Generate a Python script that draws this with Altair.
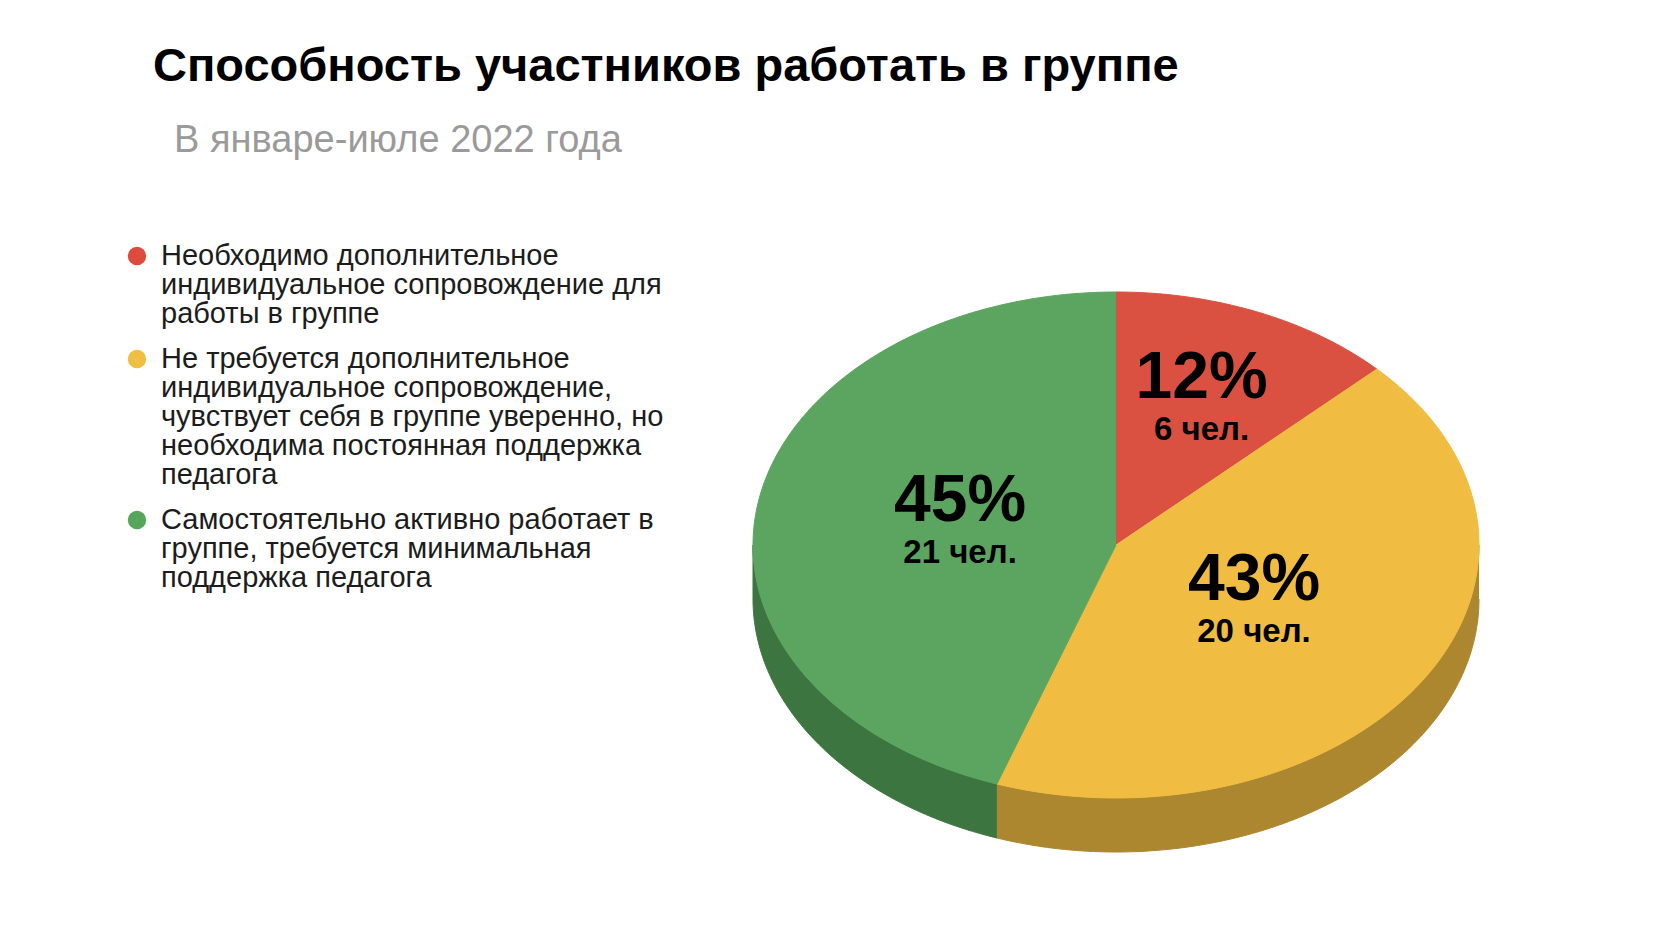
import numpy as np
import pandas as pd
import altair as alt

# ---------------- data ----------------
title_text = "Способность участников работать в группе"
subtitle_text = "В январе-июле 2022 года"
categories = [
    "Необходимо дополнительное\nиндивидуальное сопровождение для\nработы в группе",
    "Не требуется дополнительное\nиндивидуальное сопровождение,\nчувствует себя в группе уверенно, но\nнеобходима постоянная поддержка\nпедагога",
    "Самостоятельно активно работает в\nгруппе, требуется минимальная\nподдержка педагога",
]
counts = [6, 20, 21]
percent_labels = ["12%", "43%", "45%"]
count_labels = ["6 чел.", "20 чел.", "21 чел."]

# ---------------- styles / layout ----------------
top_colors = ["#DA5142", "#F0BC42", "#5BA560"]
side_colors = ["#A8322A", "#AC8730", "#3D7541"]
legend_colors = ["#DC4B3B", "#F0BE42", "#55A65A"]
FONT = "Liberation Sans"
W, H, PAD_TOP = 1664, 758, 170
CX, CY, RX, RY, DEPTH = 1108, 367, 363, 253, 54
N = 120
LABEL_F = 0.93
LEG_DOT_X, LEG_TEXT_X, LEG_TOP, LINE_H, ITEM_GAP = 129, 153, 78, 29, 16

# ---------------- geometry derived from the data ----------------
total = sum(counts)
fr = np.array(counts) / total * 2 * np.pi
ends = np.cumsum(fr)
starts = ends - fr


def pt(t, dy=0.0):
    return CX + RX * np.sin(t), CY - RY * np.cos(t) + dy


top_rows, side_rows = [], []
for k, (a, b) in enumerate(zip(starts, ends)):
    ts = np.linspace(a, b, N)
    pts = [(CX, CY)] + [pt(t) for t in ts]
    for i, (x, y) in enumerate(pts):
        top_rows.append(dict(key=f"top{k}", i=i, x=x, y=y))
    lo, hi = max(a, np.pi / 2), min(b, 3 * np.pi / 2)
    if hi > lo:
        ts = np.linspace(lo, hi, N)
        pts = [pt(t) for t in ts] + [pt(t, DEPTH) for t in ts[::-1]]
        for i, (x, y) in enumerate(pts):
            side_rows.append(dict(key=f"side{k}", i=i, x=x, y=y))

top_df = pd.DataFrame(top_rows)
side_df = pd.DataFrame(side_rows)

lab_rows = []
for k, (a, b) in enumerate(zip(starts, ends)):
    mid = (a + b) / 2
    half = (b - a) / 2
    f = LABEL_F * (2 / 3) * np.sin(half) / half
    lab_rows.append(dict(x=CX + f * RX * np.sin(mid), y=CY - f * RY * np.cos(mid),
                         pct=percent_labels[k], cnt=count_labels[k]))
lab_df = pd.DataFrame(lab_rows)

leg_rows = []
line_idx = 0.0
for k, c in enumerate(categories):
    y0 = LEG_TOP + line_idx * LINE_H + k * ITEM_GAP
    leg_rows.append(dict(cat=c, key=f"leg{k}", y=y0, ytext=y0 - LINE_H / 2,
                         xd=LEG_DOT_X, xt=LEG_TEXT_X))
    line_idx += c.count("\n") + 1
leg_df = pd.DataFrame(leg_rows)

xs = alt.Scale(domain=[0, W], nice=False, zero=False)
ys = alt.Scale(domain=[0, H], nice=False, zero=False, reverse=True)

top_keys = [f"top{k}" for k in range(len(counts))]
side_keys = [f"side{k}" for k in range(len(counts))]
leg_keys = [f"leg{k}" for k in range(len(counts))]
fill_scale = alt.Scale(domain=top_keys + side_keys + leg_keys,
                       range=top_colors + side_colors + legend_colors)


def poly(df):
    return alt.Chart(df).mark_line(strokeWidth=1, interpolate="linear").encode(
        x=alt.X("x:Q", scale=xs, axis=None),
        y=alt.Y("y:Q", scale=ys, axis=None),
        order=alt.Order("i:Q"),
        detail="key:N",
        fill=alt.Fill("key:N", scale=fill_scale, legend=None),
        stroke=alt.Stroke("key:N", scale=fill_scale, legend=None),
    )


sides = poly(side_df)
tops = poly(top_df)

pct = alt.Chart(lab_df).mark_text(font=FONT, fontSize=66, fontWeight="bold",
                                  color="#000", dy=-26, baseline="middle").encode(
    x=alt.X("x:Q", scale=xs, axis=None), y=alt.Y("y:Q", scale=ys, axis=None), text="pct:N")
cnt = alt.Chart(lab_df).mark_text(font=FONT, fontSize=33, fontWeight="bold",
                                  color="#000", dy=26, baseline="middle").encode(
    x=alt.X("x:Q", scale=xs, axis=None), y=alt.Y("y:Q", scale=ys, axis=None), text="cnt:N")

dots = alt.Chart(leg_df).mark_circle(size=340, opacity=1).encode(
    x=alt.X("xd:Q", scale=xs, axis=None), y=alt.Y("y:Q", scale=ys, axis=None),
    fill=alt.Fill("key:N", scale=fill_scale, legend=None))
legtext = alt.Chart(leg_df).mark_text(font=FONT, fontSize=29, color="#1C1C1C",
                                      align="left", baseline="line-top",
                                      lineBreak="\n", lineHeight=LINE_H).encode(
    x=alt.X("xt:Q", scale=xs, axis=None), y=alt.Y("ytext:Q", scale=ys, axis=None),
    text="cat:N")

chart = alt.layer(sides, tops, pct, cnt, dots, legtext).properties(
    width=W, height=H,
    title=alt.Title(text=title_text, subtitle="\u200b\u00a0\u00a0" + subtitle_text,
                    anchor="start", frame="group", dx=145, offset=17,
                    font=FONT, fontSize=47, fontWeight="bold", color="#000000",
                    subtitleFont=FONT, subtitleFontSize=38, subtitleColor="#9A9A9A",
                    subtitlePadding=31),
    autosize=alt.AutoSizeParams(type="none"),
    padding={"left": 0, "top": PAD_TOP, "right": 0, "bottom": 0},
).configure_view(stroke=None)

chart.save("out.html", embed_options={"renderer": "svg", "actions": False})
